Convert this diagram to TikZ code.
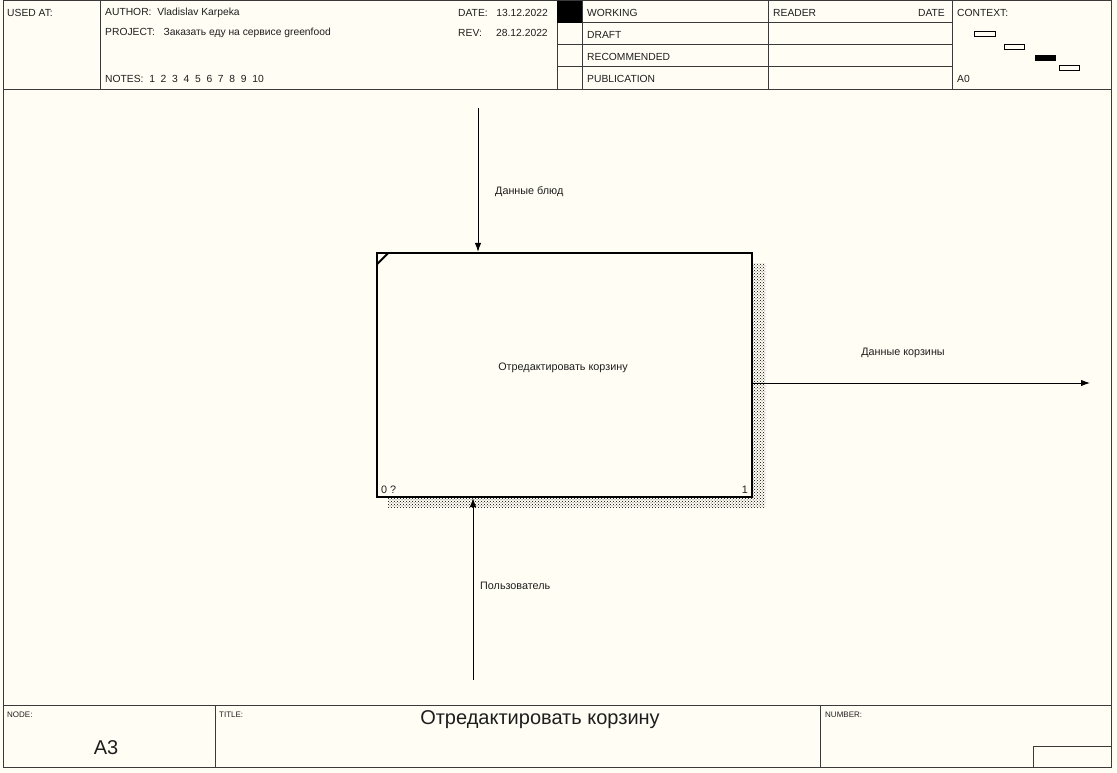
\documentclass[tikz,border=0pt]{standalone}
\usepackage{fontspec}
\setmainfont{Liberation Sans}
\usepackage{tikz}
\usetikzlibrary{arrows.meta,patterns}

\definecolor{paper}{HTML}{FFFDF4}
\definecolor{rule}{HTML}{3A3A3A}
\definecolor{ink}{HTML}{1E1E1E}

\tikzset{
  frame/.style={draw=rule, line width=1pt},
  hdr/.style={anchor=west, inner sep=0pt, text=ink, font=\fontsize{10.3}{12}\selectfont},
  tiny/.style={anchor=west, inner sep=0pt, text=ink, font=\fontsize{8}{9}\selectfont},
  big/.style={inner sep=0pt, text=ink, font=\fontsize{20}{22}\selectfont},
  lbl/.style={inner sep=0pt, text=ink, font=\fontsize{10.8}{12}\selectfont},
  procbox/.style={draw=black, line width=2.2pt, fill=paper, minimum width=375pt, minimum height=244pt, inner sep=0pt},
  flow/.style={draw=black, line width=1pt, -{Latex[length=9pt,width=6.5pt]}},
  ctx/.style={draw=black, line width=0.8pt}
}

\begin{document}
\begin{tikzpicture}[x=1pt, y=-1pt]
      \useasboundingbox[fill=paper] (0,0) rectangle (1117,773);
      % frame and header
      \draw[frame] (3,1) rectangle (1111,767);
      \draw[frame] (3,90) -- (1111,90);
      \foreach \xx in {100,557,582,768,952}
        \draw[frame] (\xx,1) -- (\xx,90);
      \foreach \yy in {23,45,67}
        \draw[frame] (557,\yy) -- (952,\yy);
      \fill[black] (557,1) rectangle (582,23);
      \node[hdr] (usedat) at (7,13) {USED AT:};
      \node[hdr] (author) at (105,13) {AUTHOR:\ \ Vladislav Karpeka};
      \node[hdr] (project) at (105,33) {PROJECT:\ \ \ Заказать еду на сервисе greenfood};
      \node[hdr] (notes) at (105,79) {NOTES:\ \ 1\ \ 2\ \ 3\ \ 4\ \ 5\ \ 6\ \ 7\ \ 8\ \ 9\ \ 10};
      \node[hdr] (date) at (458,13) {DATE:\ \ \ 13.12.2022};
      \node[hdr] (rev) at (458,33) {REV:\ \ \ \ \ 28.12.2022};
      \node[hdr] (working) at (587,13) {WORKING};
      \node[hdr] (draft) at (587,35) {DRAFT};
      \node[hdr] (recom) at (587,57) {RECOMMENDED};
      \node[hdr] (public) at (587,79) {PUBLICATION};
      \node[hdr] (reader) at (773,13) {READER};
      \node[hdr, anchor=east] (rdate) at (945,13) {DATE};
      \node[hdr] (context) at (957,13) {CONTEXT:};
      \node[hdr] (ctxnode) at (957,79) {A0};
      \draw[ctx] (974,31) rectangle (995,36);
      \draw[ctx] (1004,44) rectangle (1024,49);
      \draw[ctx, fill=black] (1035,55) rectangle (1055,60);
      \draw[ctx] (1059,65) rectangle (1079,70);
      % shadow and activity box
      \fill[pattern=crosshatch dots, pattern color=black] (752,263) rectangle (765,507);
      \fill[pattern=crosshatch dots, pattern color=black] (388,497) rectangle (752,507);
      \node[procbox] (edit) at (564.5,375) {};
      \node[lbl] (edittext) at (563,368) {Отредактировать корзину};
      \draw[black, line width=2pt] ([xshift=1.5pt,yshift=-12pt]edit.north west) -- ([xshift=12pt,yshift=-1.5pt]edit.north west);
      \node[lbl, anchor=south west] (editcost) at ([xshift=5pt,yshift=4pt]edit.south west) {0 ?};
      \node[lbl, anchor=south east] (editno) at ([xshift=-5pt,yshift=4pt]edit.south east) {1};
      % arrows
      \coordinate (dishsrc) at (478,108);
      \coordinate (cartout) at (1090,383);
      \coordinate (usersrc) at (473,680);
      \draw[flow] (dishsrc) -- (dishsrc |- edit.north);
      \draw[flow] (edit.east |- cartout) -- (cartout);
      \draw[flow] (usersrc) -- (usersrc |- edit.south);
      \node[lbl, anchor=west] (dishlbl) at (495,192) {Данные блюд};
      \node[lbl] (cartlbl) at (903,353) {Данные корзины};
      \node[lbl, anchor=west] (userlbl) at (480,586) {Пользователь};
      % footer
      \draw[frame] (3,705) -- (1111,705);
      \draw[frame] (215,705) -- (215,767);
      \draw[frame] (820,705) -- (820,767);
      \draw[frame] (1033,767) -- (1033,746) -- (1111,746);
      \node[tiny] (nodelbl) at (7,715) {NODE:};
      \node[tiny] (titlelbl) at (219,715) {TITLE:};
      \node[tiny] (numlbl) at (825,715) {NUMBER:};
      \node[big] (nodeno) at (106,748) {A3};
      \node[big] (title) at (540,720) {Отредактировать корзину};
    \end{tikzpicture}
\end{document}
